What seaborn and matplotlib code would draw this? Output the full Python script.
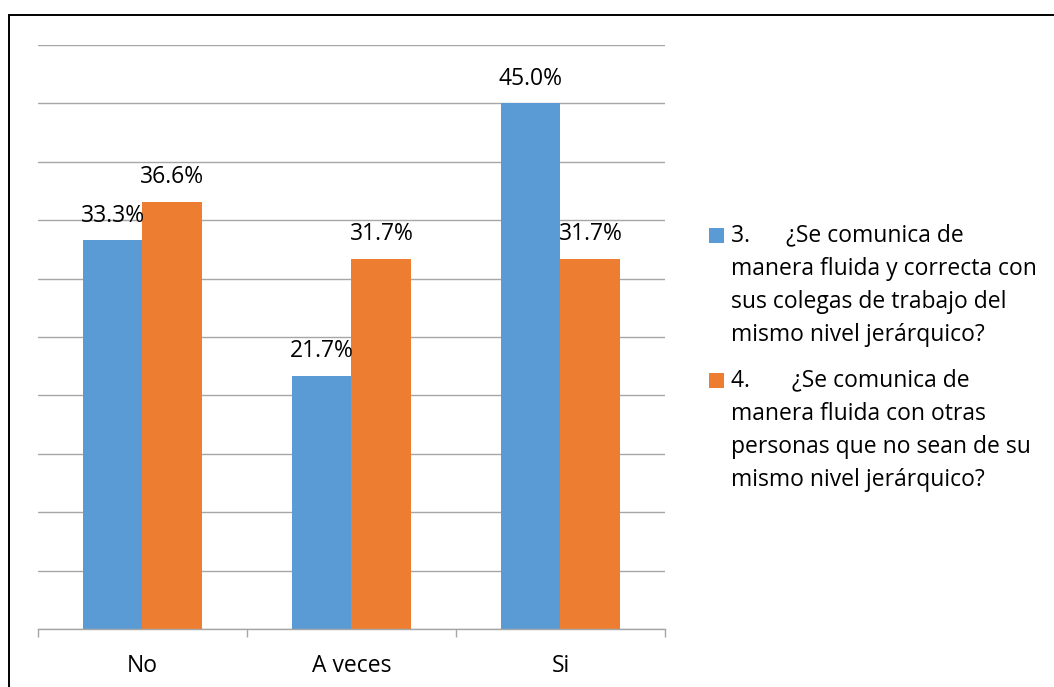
import matplotlib
matplotlib.use("Agg")
import matplotlib.pyplot as plt
from matplotlib.patches import Rectangle
import pandas as pd
import seaborn as sns

# Survey answers per category, in percent
categories = ["No", "A veces", "Si"]
q3_values = [33.3, 21.7, 45.0]
q4_values = [36.6, 31.7, 31.7]
series_labels = [
    "3.      ¿Se comunica de\nmanera fluida y correcta con\nsus colegas de trabajo del\nmismo nivel jerárquico?",
    "4.       ¿Se comunica de\nmanera fluida con otras\npersonas que no sean de su\nmismo nivel jerárquico?",
]
colors = ["#5B9BD5", "#ED7D31"]

df = pd.DataFrame({
    "categoria": categories * 2,
    "pregunta": [series_labels[0]] * 3 + [series_labels[1]] * 3,
    "valor": q3_values + q4_values,
})

sns.set_theme(style="white")
plt.rcParams["font.family"] = ["Open Sans", "DejaVu Sans"]
FS = 16.5
GRID = "#A6A6A6"

fig = plt.figure(figsize=(10.54, 6.87), dpi=100)
W, H = 1054, 687
ax = fig.add_axes([38 / W, 1 - 629 / H, (665 - 38) / W, (629 - 45) / H])

sns.barplot(data=df, x="categoria", y="valor", hue="pregunta",
            palette=colors, width=0.574, gap=0, saturation=1,
            linewidth=0, ax=ax, legend=False, order=categories,
            hue_order=series_labels)

ax.set_xlim(-0.5, 2.5)
ax.set_ylim(0, 50)
ax.set_yticks(range(0, 51, 5))
ax.set_yticklabels([])
ax.tick_params(axis="y", length=0)
ax.yaxis.grid(True, color=GRID, linewidth=1.0)
ax.set_axisbelow(True)
ax.set_xlabel("")
ax.set_ylabel("")

for side in ["left", "right", "top"]:
    ax.spines[side].set_visible(False)
ax.spines["bottom"].set_color(GRID)
ax.spines["bottom"].set_linewidth(1.0)

# Category labels centred under each group, tick marks at group boundaries
ax.set_xticks(range(len(categories)))
ax.set_xticklabels(categories, fontsize=FS, color="black")
ax.tick_params(axis="x", which="major", length=0, pad=18)
ax.set_xticks([-0.5, 0.5, 1.5, 2.5], minor=True)
ax.tick_params(axis="x", which="minor", length=6, width=1.0, color=GRID,
               direction="out", bottom=True)

for cont in ax.containers:
    ax.bar_label(cont, fmt="%.1f%%", padding=9, fontsize=FS, color="black")

# Legend: square marker beside the first line of each wrapped entry
first_baselines = [243, 388]
line_step = 32.7
for label, color, base in zip(series_labels, colors, first_baselines):
    n_lines = label.count("\n") + 1
    fig.add_artist(Rectangle((709 / W, 1 - base / H), 15 / W, 15 / H,
                             transform=fig.transFigure, color=color, lw=0))
    last_base = base + (n_lines - 1) * line_step
    fig.text(731 / W, 1 - last_base / H, label, fontsize=FS, va="baseline",
             ha="left", color="black", linespacing=1.51)

# Outer frame
fig.add_artist(Rectangle((9 / W, -0.1), 1.2, (1 - 15 / H) + 0.1,
                         transform=fig.transFigure, fill=False,
                         edgecolor="black", linewidth=1.4))

fig.savefig("out.png", dpi=100)
